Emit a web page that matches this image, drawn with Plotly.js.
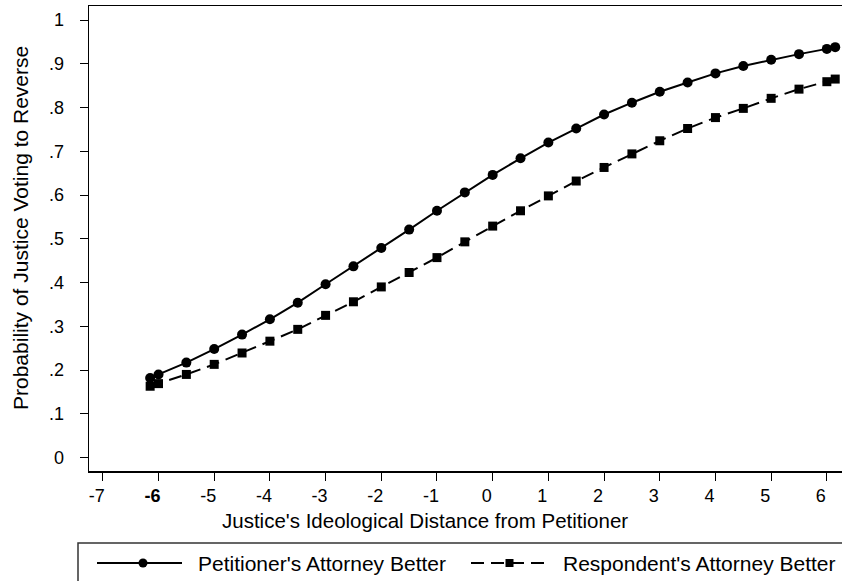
<!DOCTYPE html>
<html>
<head>
<meta charset="utf-8">
<script src="https://cdn.plot.ly/plotly-3.0.1.min.js"></script>
<style>html,body{margin:0;padding:0;background:#fff;}#chart{width:842px;height:581px;}</style>
</head>
<body>
<div id="chart"></div>
<script>
// Data
const distance = [-6.15, -6, -5.5, -5, -4.5, -4, -3.5, -3, -2.5, -2, -1.5, -1, -0.5, 0, 0.5, 1, 1.5, 2, 2.5, 3, 3.5, 4, 4.5, 5, 5.5, 6, 6.15];
const petitionerBetter = [0.182, 0.190, 0.217, 0.248, 0.281, 0.316, 0.354, 0.396, 0.437, 0.479, 0.521, 0.564, 0.606, 0.646, 0.684, 0.720, 0.752, 0.784, 0.811, 0.836, 0.857, 0.878, 0.895, 0.909, 0.922, 0.934, 0.938];
const respondentBetter = [0.163, 0.169, 0.190, 0.213, 0.239, 0.266, 0.293, 0.325, 0.356, 0.390, 0.423, 0.457, 0.493, 0.529, 0.564, 0.598, 0.632, 0.663, 0.694, 0.724, 0.752, 0.777, 0.798, 0.821, 0.842, 0.859, 0.865];
const seriesNames = ["Petitioner's Attorney Better", "Respondent's Attorney Better"];
const xTickVals = [-7, -6, -5, -4, -3, -2, -1, 0, 1, 2, 3, 4, 5, 6];
const xTickText = ["-7", "<b>-6</b>", "-5", "-4", "-3", "-2", "-1", "0", "1", "2", "3", "4", "5", "6"];
const yTickVals = [0, 0.1, 0.2, 0.3, 0.4, 0.5, 0.6, 0.7, 0.8, 0.9, 1];
const yTickText = ["0", ".1", ".2", ".3", ".4", ".5", ".6", ".7", ".8", ".9", "1"];
const xTitle = "Justice's Ideological Distance from Petitioner";
const yTitle = "Probability of Justice Voting to Reverse";

const W = 842, H = 581;
const M = {l: 89, r: 0, t: 6, b: 110};
const PW = W - M.l - M.r, PH = H - M.t - M.b;
const px = x => (x - M.l) / PW;          // pixel -> paper x
const py = y => (H - M.b - y) / PH;      // pixel -> paper y

const FONT = 'Liberation Sans, Arial, sans-serif';
const DASH = '13px,7px';

const traces = [
  {
    x: distance, y: petitionerBetter, name: seriesNames[0],
    type: 'scatter', mode: 'lines+markers', showlegend: false,
    line: {color: '#000', width: 2, dash: 'solid'},
    marker: {symbol: 'circle', size: 10, color: '#000'}
  },
  {
    x: distance, y: respondentBetter, name: seriesNames[1],
    type: 'scatter', mode: 'lines+markers', showlegend: false,
    line: {color: '#000', width: 2, dash: DASH},
    marker: {symbol: 'square', size: 9, color: '#000'}
  }
];

// Legend drawn by hand to reproduce the long key samples
const legY = py(563);
const shapes = [
  {type: 'rect', xref: 'paper', yref: 'paper', x0: px(78), x1: px(900), y0: py(543), y1: py(620),
   line: {color: '#333', width: 1.5}, fillcolor: 'rgba(0,0,0,0)'},
  {type: 'line', xref: 'paper', yref: 'paper', x0: px(97), x1: px(182), y0: legY, y1: legY,
   line: {color: '#000', width: 2}},
  {type: 'circle', xref: 'paper', yref: 'paper', xsizemode: 'pixel', ysizemode: 'pixel',
   xanchor: px(143), yanchor: legY, x0: -4.5, x1: 4.5, y0: -4.5, y1: 4.5,
   fillcolor: '#000', line: {color: '#000', width: 0}},
  {type: 'line', xref: 'paper', yref: 'paper', x0: px(471), x1: px(548), y0: legY, y1: legY,
   line: {color: '#000', width: 2, dash: DASH}},
  {type: 'rect', xref: 'paper', yref: 'paper', xsizemode: 'pixel', ysizemode: 'pixel',
   xanchor: px(509.5), yanchor: legY, x0: -4, x1: 4, y0: -4, y1: 4,
   fillcolor: '#000', line: {color: '#000', width: 0}}
];

const annotations = [
  {text: seriesNames[0], xref: 'paper', yref: 'paper', x: px(196), y: legY, xanchor: 'left', yanchor: 'middle',
   showarrow: false, font: {family: FONT, size: 21, color: '#000'}},
  {text: seriesNames[1], xref: 'paper', yref: 'paper', x: px(561), y: legY, xanchor: 'left', yanchor: 'middle',
   showarrow: false, font: {family: FONT, size: 21, color: '#000'}},
  {text: xTitle, xref: 'paper', yref: 'paper', x: px(425), y: py(520), xanchor: 'center', yanchor: 'middle',
   showarrow: false, font: {family: FONT, size: 20.5, color: '#000'}},
  {text: yTitle, xref: 'paper', yref: 'paper', x: px(20), y: py(228), xanchor: 'center', yanchor: 'middle',
   textangle: -90, showarrow: false, font: {family: FONT, size: 21, color: '#000'}}
];

const layout = {
  width: W, height: H,
  margin: M,
  paper_bgcolor: '#fff', plot_bgcolor: '#fff',
  font: {family: FONT, size: 18, color: '#000'},
  showlegend: false,
  xaxis: {
    range: [-7.248, 6.272], tickmode: 'array', tickvals: xTickVals, ticktext: xTickText,
    ticks: 'outside', ticklen: 8, tickwidth: 1, tickcolor: '#000',
    showline: true, linecolor: '#000', linewidth: 1.5, mirror: true,
    showgrid: false, zeroline: false, ticklabelstandoff: 0, ticklabelshift: -6,
    tickfont: {family: FONT, size: 18, color: '#000'}
  },
  yaxis: {
    range: [-0.0307, 1.032], tickmode: 'array', tickvals: yTickVals, ticktext: yTickText,
    ticks: 'outside', ticklen: 8, tickwidth: 1, tickcolor: '#000',
    showline: true, linecolor: '#000', linewidth: 1.5, mirror: false,
    showgrid: false, zeroline: false, ticklabelstandoff: 12,
    tickfont: {family: FONT, size: 18, color: '#000'}
  },
  shapes: shapes,
  annotations: annotations
};

Plotly.newPlot('chart', traces, layout, {displayModeBar: false, staticPlot: true});
</script>
</body>
</html>
